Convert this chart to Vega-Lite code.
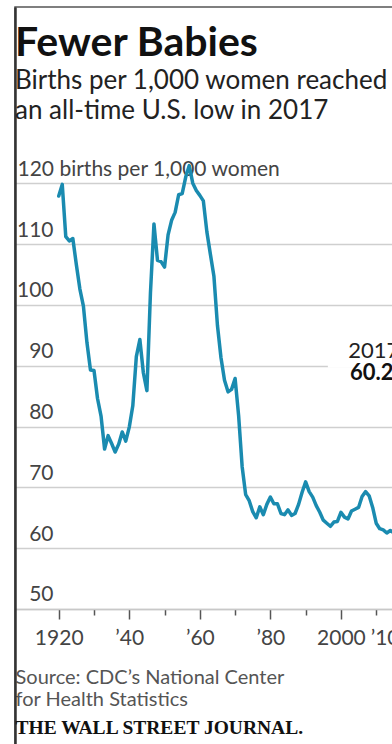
{
  "$schema": "https://vega.github.io/schema/vega-lite/v6.json",
  "width": 380,
  "height": 740,
  "autosize": "none",
  "padding": {"left": 15, "top": 7, "right": -3, "bottom": -3},
  "background": "white",
  "config": {"view": {"stroke": "#555555", "strokeWidth": 1.5}, "font": "Lato"},
  "title": {
    "text": "Fewer Babies",
    "subtitle": ["Births per 1,000 women reached", "an all-time U.S. low in 2017"],
    "anchor": "start",
    "frame": "group",
    "font": "Lato",
    "fontSize": 41,
    "fontWeight": "bold",
    "color": "#111111",
    "subtitleFont": "Lato",
    "subtitleFontSize": 26,
    "subtitleColor": "#222222",
    "subtitleLineHeight": 30,
    "subtitlePadding": 3,
    "offset": -118
  },
  "layer": [
    {
      "data": {"values": [
        {"year": 1920, "rate": 117.9}, {"year": 1921, "rate": 119.8}, {"year": 1922, "rate": 111.2}, {"year": 1923, "rate": 110.5}, {"year": 1924, "rate": 110.9},
        {"year": 1925, "rate": 106.6}, {"year": 1926, "rate": 102.6}, {"year": 1927, "rate": 99.8}, {"year": 1928, "rate": 93.8}, {"year": 1929, "rate": 89.3},
        {"year": 1930, "rate": 89.2}, {"year": 1931, "rate": 84.6}, {"year": 1932, "rate": 81.7}, {"year": 1933, "rate": 76.3}, {"year": 1934, "rate": 78.5},
        {"year": 1935, "rate": 77.2}, {"year": 1936, "rate": 75.8}, {"year": 1937, "rate": 77.1}, {"year": 1938, "rate": 79.1}, {"year": 1939, "rate": 77.6},
        {"year": 1940, "rate": 79.9}, {"year": 1941, "rate": 83.4}, {"year": 1942, "rate": 91.5}, {"year": 1943, "rate": 94.3}, {"year": 1944, "rate": 88.8},
        {"year": 1945, "rate": 85.9}, {"year": 1946, "rate": 101.9}, {"year": 1947, "rate": 113.3}, {"year": 1948, "rate": 107.3}, {"year": 1949, "rate": 107.1},
        {"year": 1950, "rate": 106.2}, {"year": 1951, "rate": 111.5}, {"year": 1952, "rate": 113.9}, {"year": 1953, "rate": 115.2}, {"year": 1954, "rate": 118.1},
        {"year": 1955, "rate": 118.3}, {"year": 1956, "rate": 121.0}, {"year": 1957, "rate": 122.9}, {"year": 1958, "rate": 120.0}, {"year": 1959, "rate": 118.8},
        {"year": 1960, "rate": 118.0}, {"year": 1961, "rate": 117.1}, {"year": 1962, "rate": 112.0}, {"year": 1963, "rate": 108.3}, {"year": 1964, "rate": 104.7},
        {"year": 1965, "rate": 96.6}, {"year": 1966, "rate": 91.3}, {"year": 1967, "rate": 87.6}, {"year": 1968, "rate": 85.7}, {"year": 1969, "rate": 86.1},
        {"year": 1970, "rate": 87.9}, {"year": 1971, "rate": 81.8}, {"year": 1972, "rate": 73.4}, {"year": 1973, "rate": 68.8}, {"year": 1974, "rate": 67.8},
        {"year": 1975, "rate": 66.0}, {"year": 1976, "rate": 65.0}, {"year": 1977, "rate": 66.8}, {"year": 1978, "rate": 65.5}, {"year": 1979, "rate": 67.2},
        {"year": 1980, "rate": 68.4}, {"year": 1981, "rate": 67.3}, {"year": 1982, "rate": 67.3}, {"year": 1983, "rate": 65.7}, {"year": 1984, "rate": 65.5},
        {"year": 1985, "rate": 66.3}, {"year": 1986, "rate": 65.4}, {"year": 1987, "rate": 65.7}, {"year": 1988, "rate": 67.2}, {"year": 1989, "rate": 69.2},
        {"year": 1990, "rate": 70.9}, {"year": 1991, "rate": 69.3}, {"year": 1992, "rate": 68.4}, {"year": 1993, "rate": 67.0}, {"year": 1994, "rate": 65.9},
        {"year": 1995, "rate": 64.6}, {"year": 1996, "rate": 64.1}, {"year": 1997, "rate": 63.6}, {"year": 1998, "rate": 64.3}, {"year": 1999, "rate": 64.4},
        {"year": 2000, "rate": 65.9}, {"year": 2001, "rate": 65.1}, {"year": 2002, "rate": 64.8}, {"year": 2003, "rate": 66.1}, {"year": 2004, "rate": 66.4},
        {"year": 2005, "rate": 66.7}, {"year": 2006, "rate": 68.5}, {"year": 2007, "rate": 69.3}, {"year": 2008, "rate": 68.6}, {"year": 2009, "rate": 66.7},
        {"year": 2010, "rate": 64.1}, {"year": 2011, "rate": 63.2}, {"year": 2012, "rate": 63.0}, {"year": 2013, "rate": 62.5}, {"year": 2014, "rate": 62.9},
        {"year": 2015, "rate": 62.5}, {"year": 2016, "rate": 62.0}, {"year": 2017, "rate": 60.2}
      ]},
      "mark": {"type": "line", "clip": true, "color": "#1a8bb0", "strokeWidth": 3.5, "strokeJoin": "round", "strokeCap": "round"},
      "encoding": {
        "x": {
          "field": "year", "type": "quantitative",
          "scale": {"domain": [1907.605, 2015.33], "nice": false, "zero": false},
          "axis": {
            "orient": "bottom",
            "offset": -138,
            "values": [1920, 1930, 1940, 1950, 1960, 1970, 1980, 1990, 2000, 2010],
            "labelExpr": "datum.value == 1920 ? '1920' : datum.value == 2000 ? '2000' : datum.value == 2010 ? '’10' : datum.value % 20 == 0 ? '’' + substring(toString(datum.value), 2, 4) : ''",
            "domain": true, "domainColor": "#c8c8c8", "domainWidth": 1.5,
            "ticks": true,
            "tickSize": {"condition": {"test": "datum.value % 20 != 0", "value": 6}, "value": 10},
            "tickColor": "#555555", "tickWidth": 1.5,
            "grid": false,
            "labelFont": "Lato", "labelFontSize": 21, "labelColor": "#444444",
            "labelBaseline": "alphabetic",
            "labelPadding": {"condition": {"test": "datum.value % 20 != 0", "value": 29}, "value": 25},
            "labelAlign": {"condition": {"test": "datum.value == 2010", "value": "left"}, "value": "center"},
            "labelOffset": {"condition": {"test": "datum.value == 2010", "value": -6}, "value": 0},
            "labelOverlap": false, "labelFlush": false, "labelBound": false,
            "title": ["Source: CDC’s National Center", "for Health Statistics"],
            "titleFont": "Lato", "titleFontSize": 20, "titleFontWeight": "normal", "titleColor": "#555555",
            "titleAlign": "left", "titleAnchor": "start", "titleBaseline": "alphabetic", "titleLineHeight": 22,
            "titleX": 0, "titleY": 74
          }
        },
        "y": {
          "field": "rate", "type": "quantitative",
          "scale": {"domain": [27.313, 148.966], "nice": false, "zero": false},
          "axis": {
            "values": [50, 60, 70, 80, 90, 100, 110, 120],
            "labelExpr": "datum.value == 120 ? '120 births per 1,000 women' : datum.label",
            "domain": true, "domainColor": "#333333", "domainWidth": 2.5,
            "ticks": false, "tickSize": 0,
            "grid": true, "gridColor": "#cfcfcf", "gridWidth": 1.5,
            "labelFont": "Lato", "labelFontSize": 21, "labelColor": "#444444", "labelLimit": 0,
            "labelAlign": {"condition": {"test": "datum.value == 120", "value": "left"}, "value": "right"},
            "labelPadding": {"condition": {"test": "datum.value == 120", "value": -2}, "value": -38},
            "labelBaseline": "alphabetic", "labelOffset": -8,
            "labelOverlap": false, "labelFlush": false, "labelBound": false,
            "title": "THE WALL STREET JOURNAL.",
            "titleFont": "Liberation Serif", "titleFontSize": 19.5, "titleFontWeight": "bold", "titleColor": "#111111",
            "titleAngle": 0, "titleAlign": "left", "titleBaseline": "alphabetic",
            "titleX": 0, "titleY": 726
          }
        }
      }
    },
    {
      "data": {"values": [{}]},
      "mark": {"type": "rule", "color": "white", "strokeWidth": 4, "clip": true},
      "encoding": {
        "x": {"datum": 1996.3, "type": "quantitative"},
        "x2": {"datum": 2015.33},
        "y": {"datum": 90, "type": "quantitative"}
      }
    },
    {
      "data": {"values": [{}]},
      "mark": {"type": "text", "text": "2017", "align": "left", "baseline": "alphabetic", "font": "Lato", "fontSize": 22, "color": "#222222"},
      "encoding": {
        "x": {"datum": 2002.1, "type": "quantitative"},
        "y": {"datum": 91.3, "type": "quantitative"}
      }
    },
    {
      "data": {"values": [{}]},
      "mark": {"type": "text", "text": "60.2", "align": "left", "baseline": "alphabetic", "font": "Lato", "fontSize": 22, "fontWeight": "bold", "color": "#111111"},
      "encoding": {
        "x": {"datum": 2002.6, "type": "quantitative"},
        "y": {"datum": 87.7, "type": "quantitative"}
      }
    }
  ]
}
